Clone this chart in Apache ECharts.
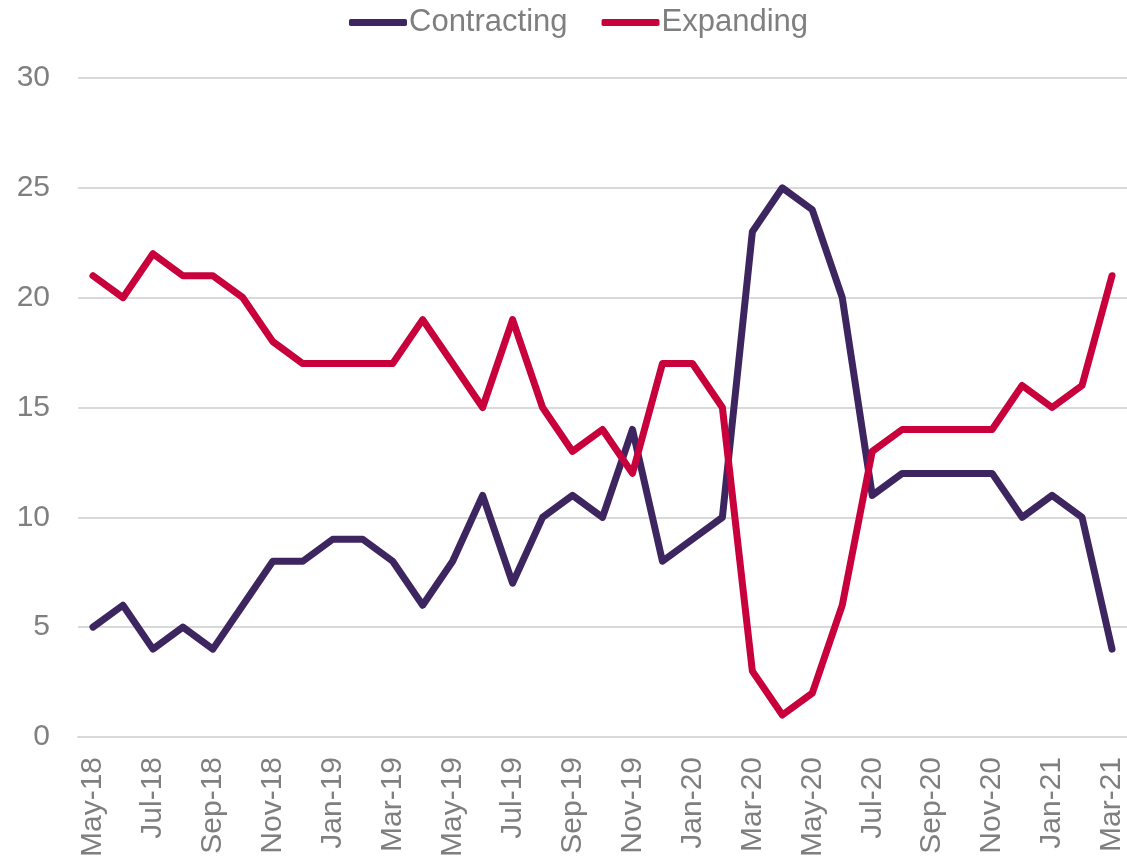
<!DOCTYPE html>
<html>
<head>
<meta charset="utf-8">
<script src="https://cdn.jsdelivr.net/npm/echarts@6/dist/echarts.min.js"></script>
<style>
  html, body { margin: 0; padding: 0; background: #fff; }
  #chart { width: 1127px; height: 862px; }
</style>
</head>
<body>
<div id="chart"></div>
<script>
// months shown on the x axis
var months = ['May-18','Jun-18','Jul-18','Aug-18','Sep-18','Oct-18','Nov-18','Dec-18',
  'Jan-19','Feb-19','Mar-19','Apr-19','May-19','Jun-19','Jul-19','Aug-19','Sep-19','Oct-19','Nov-19','Dec-19',
  'Jan-20','Feb-20','Mar-20','Apr-20','May-20','Jun-20','Jul-20','Aug-20','Sep-20','Oct-20','Nov-20','Dec-20',
  'Jan-21','Feb-21','Mar-21'];

var contracting = [5,6,4,5,4,6,8,8,9,9,8,6,8,11,7,10,11,10,14,8,9,10,23,25,24,20,11,12,12,12,12,10,11,10,4];
var expanding   = [21,20,22,21,21,20,18,17,17,17,17,19,17,15,19,15,13,14,12,17,17,15,3,1,2,6,13,14,14,14,14,16,15,16,21];

var chart = echarts.init(document.getElementById('chart'));

var option = {
  animation: false,
  legend: {
    top: 2,
    left: 344,
    itemWidth: 58,
    itemHeight: 7,
    itemGap: 34,
    icon: 'roundRect',
    textStyle: { color: '#7f7f7f', fontSize: 31, fontFamily: 'Liberation Sans', padding: [0, 0, 0, -3] },
    data: ['Contracting', 'Expanding']
  },
  grid: { left: 78, right: -3, top: 78, bottom: 125 },
  xAxis: {
    type: 'category',
    data: months,
    boundaryGap: true,
    axisLine: { lineStyle: { color: '#d9d9d9', width: 2 } },
    axisTick: { interval: 1, length: 9, lineStyle: { color: '#d9d9d9', width: 2 } },
    axisLabel: {
      interval: 1,
      rotate: 90,
      margin: 20,
      color: '#7f7f7f',
      fontSize: 30,
      fontFamily: 'Liberation Sans'
    }
  },
  yAxis: {
    type: 'value',
    min: 0,
    max: 30,
    interval: 5,
    axisLine: { show: false },
    axisTick: { show: false },
    splitLine: { lineStyle: { color: '#d9d9d9', width: 2 } },
    axisLabel: { color: '#7f7f7f', fontSize: 30, margin: 28, fontFamily: 'Liberation Sans' }
  },
  series: [
    {
      name: 'Contracting',
      type: 'line',
      data: contracting,
      symbol: 'none',
      lineStyle: { width: 7, color: '#3d2560', cap: 'round', join: 'round' },
      itemStyle: { color: '#3d2560' }
    },
    {
      name: 'Expanding',
      type: 'line',
      data: expanding,
      symbol: 'none',
      lineStyle: { width: 7, color: '#c8003c', cap: 'round', join: 'round' },
      itemStyle: { color: '#c8003c' }
    }
  ]
};

chart.setOption(option);
</script>
</body>
</html>
